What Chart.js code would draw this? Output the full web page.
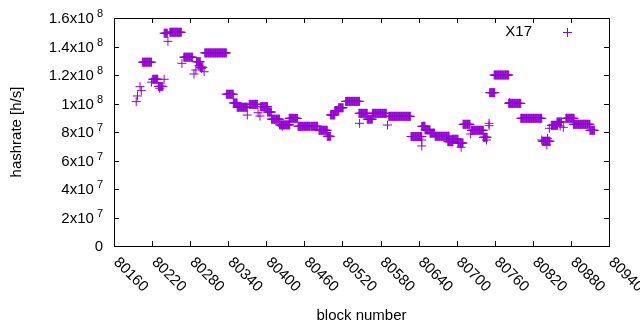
<!DOCTYPE html>
<html lang="en">
<head>
<meta charset="UTF-8">
<title>X17 hashrate</title>
<script src="https://cdn.jsdelivr.net/npm/chart.js"></script>
<style>
  html, body { margin: 0; padding: 0; background: #fff; }
</style>
</head>
<body>
<canvas id="chartCanvas" width="640" height="330"></canvas>
<script>
// runs of blocks with the same hashrate (first block, last block, value in 1e6 h/s)
const runStart = [80205, 80221, 80230, 80239, 80248, 80270, 80290, 80296, 80303, 80337,
                  80348, 80354, 80373, 80391, 80402, 80408, 80421, 80436, 80450, 80470,
                  80483, 80496, 80501, 80508, 80514, 80525, 80547, 80559, 80567, 80593,
                  80628, 80645, 80650, 80658, 80666, 80686, 80693, 80702, 80710, 80723,
                  80742, 80752, 80759, 80782, 80801, 80835, 80849, 80858, 80872, 80884,
                  80910];
const runEnd   = [80219, 80229, 80237, 80244, 80266, 80284, 80296, 80300, 80337, 80348,
                  80354, 80370, 80386, 80402, 80408, 80421, 80437, 80449, 80468, 80481,
                  80496, 80501, 80508, 80514, 80521, 80547, 80559, 80567, 80589, 80627,
                  80645, 80650, 80658, 80665, 80688, 80694, 80702, 80710, 80721, 80742,
                  80748, 80760, 80782, 80801, 80834, 80847, 80859, 80865, 80885, 80910,
                  80917];
const runValue = [129, 117, 112, 149.3, 150, 132.5, 129.3, 125.4, 135.5, 106.5,
                  100.4, 97.4, 99.4, 97.8, 94, 89, 85, 89.6, 84, 84,
                  81.2, 77, 92, 95, 97, 101.5, 93.1, 89, 93.1, 91,
                  76.8, 84, 81.5, 79.2, 77, 73.2, 74.9, 72.3, 85.4, 81.2,
                  76.3, 107.6, 120, 100.1, 89.6, 73.5, 84.7, 87, 89.6, 85.4,
                  81.2];
// isolated blocks
const singleBlock = [80195, 80197, 80201, 80203, 80219, 80232, 80239, 80245, 80267, 80286,
                     80289, 80294, 80298, 80302, 80370, 80387, 80390, 80425, 80546, 80547,
                     80591, 80645, 80645, 80707, 80722, 80747, 80751, 80751, 80783, 80834,
                     80843, 80842, 80846, 80863, 80868];
const singleValue = [101.3, 105.3, 111.8, 109, 115, 110.7, 117, 143.6, 128.2, 120.7,
                     123.5, 126.5, 124.7, 122.3, 91.9, 93.5, 91.2, 84, 93.1, 86.1,
                     84.9, 74.4, 70.2, 69.3, 78.6, 74.4, 86.1, 84.4, 100.6, 74.4,
                     75.6, 70.9, 82.6, 84.2, 83.3];
const xTicks = [80160, 80220, 80280, 80340, 80400, 80460, 80520, 80580, 80640, 80700, 80760, 80820, 80880, 80940];
const yTicks = [0, 2e7, 4e7, 6e7, 8e7, 1e8, 1.2e8, 1.4e8, 1.6e8];

const points = [];
for (let i = 0; i < runStart.length; i++) {
    for (let b = runStart[i]; b <= runEnd[i]; b++) {
        points.push({ x: b, y: runValue[i] * 1e6 });
    }
}
for (let i = 0; i < singleBlock.length; i++) {
    points.push({ x: singleBlock[i], y: singleValue[i] * 1e6 });
}

const purple = "#9400d3";
const font = '"Liberation Sans", Arial, sans-serif';

// gnuplot-like frame, inward ticks, labels, titles and key
const gnuplotLook = {
    id: "gnuplotLook",
    afterDraw(chart) {
        const ctx = chart.ctx;
        const a = chart.chartArea;
        const xs = chart.scales.x;
        const ys = chart.scales.y;
        ctx.save();
        ctx.strokeStyle = "#000";
        ctx.lineWidth = 1;
        ctx.strokeRect(a.left + 0.5, a.top + 0.5, a.right - a.left, a.bottom - a.top);
        ctx.beginPath();
        xTicks.forEach(t => {
            const px = Math.round(xs.getPixelForValue(t)) + 0.5;
            ctx.moveTo(px, a.bottom); ctx.lineTo(px, a.bottom - 5);
            ctx.moveTo(px, a.top); ctx.lineTo(px, a.top + 5);
        });
        yTicks.forEach(t => {
            const py = Math.round(ys.getPixelForValue(t)) + 0.5;
            ctx.moveTo(a.left, py); ctx.lineTo(a.left + 5, py);
            ctx.moveTo(a.right, py); ctx.lineTo(a.right - 5, py);
        });
        ctx.stroke();

        ctx.fillStyle = "#000";
        // y tick labels like 1.2x10^8
        yTicks.forEach(t => {
            const py = ys.getPixelForValue(t);
            const rx = a.left - 11;
            ctx.textBaseline = "middle";
            ctx.textAlign = "right";
            if (t === 0) {
                ctx.font = "15px " + font;
                ctx.fillText("0", rx, py + 1);
                return;
            }
            const e = Math.floor(Math.log10(t) + 1e-9);
            const m = +(t / Math.pow(10, e)).toFixed(1);
            ctx.font = "11px " + font;
            ctx.fillText(String(e), rx, py - 4);
            const w = ctx.measureText(String(e)).width;
            ctx.font = "15px " + font;
            ctx.fillText(m + "x10", rx - w - 3, py + 1);
        });
        // x tick labels rotated 45 degrees
        ctx.font = "15px " + font;
        ctx.textAlign = "left";
        ctx.textBaseline = "middle";
        xTicks.forEach(t => {
            const px = xs.getPixelForValue(t);
            ctx.save();
            ctx.translate(px + 2, a.bottom + 14);
            ctx.rotate(Math.PI / 4);
            ctx.fillText(String(t), 0, 0);
            ctx.restore();
        });
        // axis titles
        ctx.textAlign = "center";
        ctx.fillText("block number", (a.left + a.right) / 2, 316);
        ctx.save();
        ctx.translate(17, (a.top + a.bottom) / 2);
        ctx.rotate(-Math.PI / 2);
        ctx.fillText("hashrate [h/s]", 0, 0);
        ctx.restore();
        // key
        ctx.textAlign = "right";
        ctx.fillText("X17", 532, 32);
        ctx.strokeStyle = purple;
        ctx.beginPath();
        ctx.moveTo(563, 32.5); ctx.lineTo(572, 32.5);
        ctx.moveTo(567.5, 28); ctx.lineTo(567.5, 37);
        ctx.stroke();
        ctx.restore();
    }
};

new Chart(document.getElementById("chartCanvas").getContext("2d"), {
    type: "scatter",
    data: {
        datasets: [{
            label: "X17",
            data: points,
            pointStyle: "cross",
            pointRadius: 4.5,
            pointBorderWidth: 1,
            borderColor: purple,
            backgroundColor: purple,
            clip: false
        }]
    },
    options: {
        responsive: false,
        animation: false,
        devicePixelRatio: 1,
        layout: { padding: { left: 114, right: 31, top: 18, bottom: 84 } },
        plugins: { legend: { display: false }, tooltip: { enabled: false } },
        scales: {
            x: { type: "linear", display: false, min: 80160, max: 80940 },
            y: { type: "linear", display: false, min: 0, max: 1.6e8 }
        }
    },
    plugins: [gnuplotLook]
});
</script>
</body>
</html>
